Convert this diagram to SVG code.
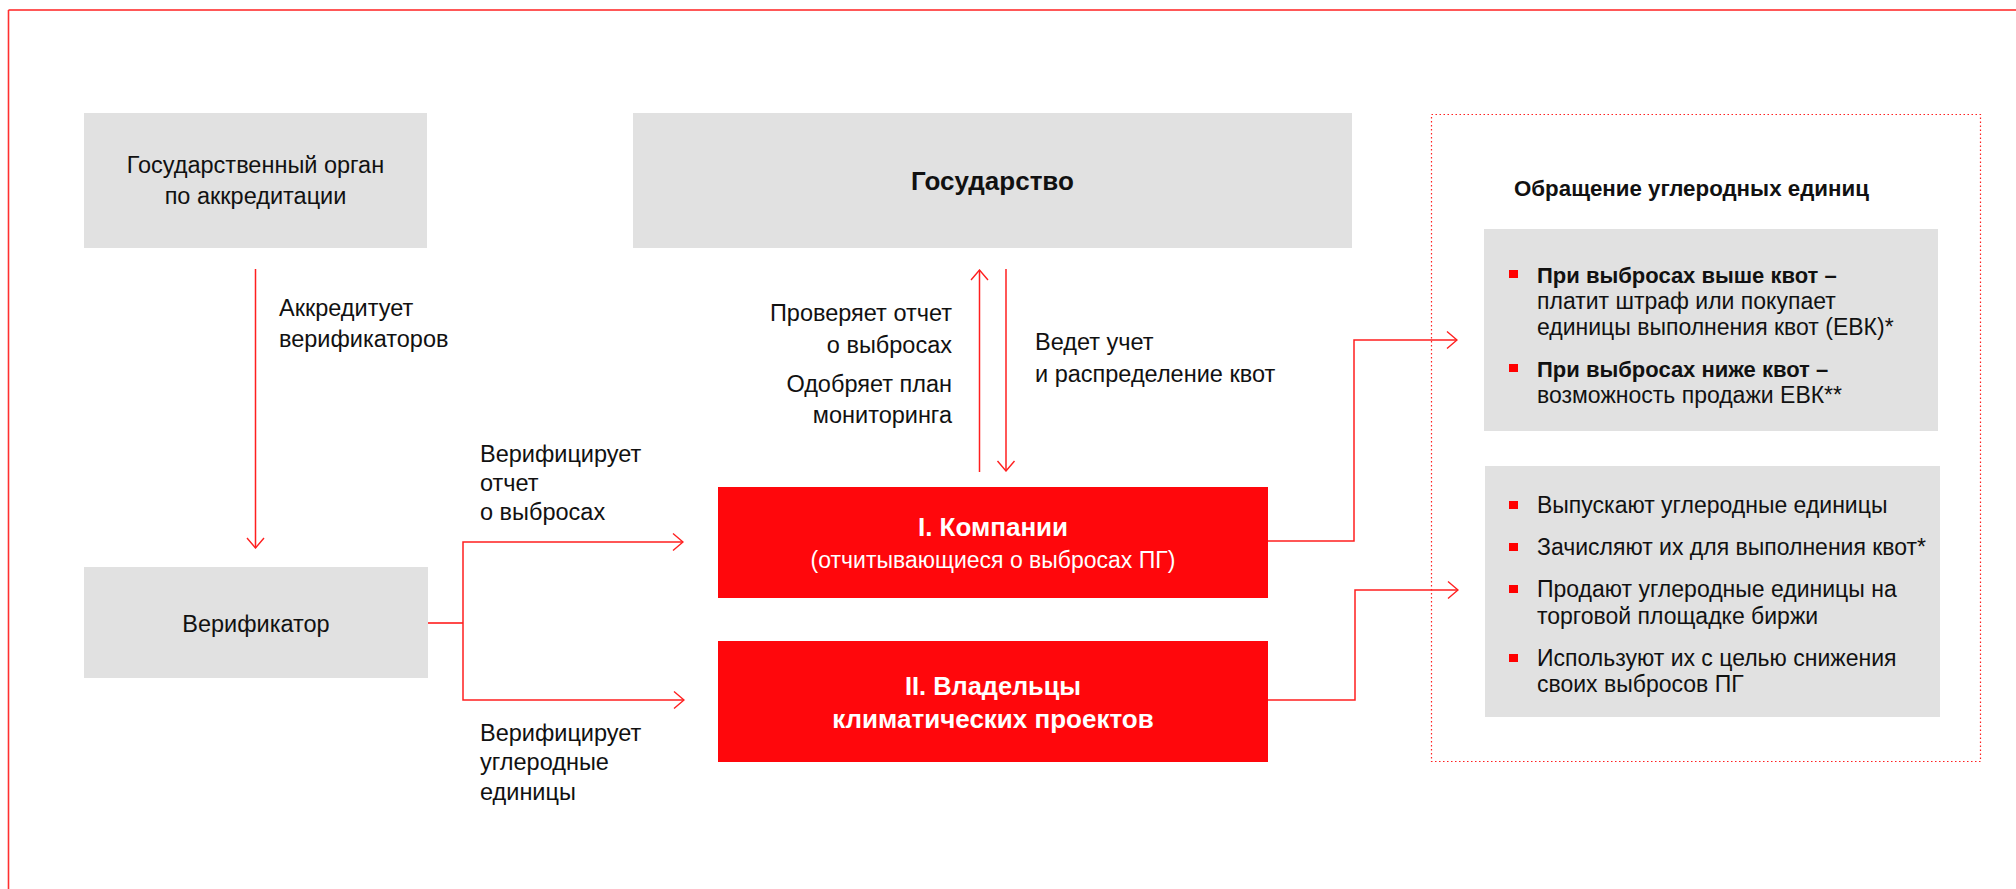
<svg xmlns="http://www.w3.org/2000/svg" width="2016" height="889" viewBox="0 0 2016 889">
  <defs>
    <style>
      text { font-family: "Liberation Sans", Arial, sans-serif; fill: #111; }
      .lbl { font-size: 23.5px; }
      .mid { text-anchor: middle; }
      .end { text-anchor: end; }
      .b { font-weight: bold; }
      .w { fill: #fff; }
      .grey { fill: #e1e1e1; }
      .red { fill: #ff070c; }
      .ln { fill: none; stroke: #ff1f1f; stroke-width: 1.5; }
      .bul { fill: #ff0000; }
      .li { font-size: 23px; }
      .lib { font-size: 22px; font-weight: bold; }
    </style>
    <marker id="arr" viewBox="0 0 12 20" refX="11" refY="10" markerWidth="12" markerHeight="20" markerUnits="userSpaceOnUse" orient="auto">
      <path d="M1,1.5 L11,10 L1,18.5" fill="none" stroke="#ff1f1f" stroke-width="1.4"/>
    </marker>
  </defs>

  <!-- outer frame: top and left rules -->
  <g id="frame">
    <line x1="8.5" y1="10" x2="2016" y2="10" stroke="#ff2020" stroke-width="1.6"/>
    <line x1="8.5" y1="10" x2="8.5" y2="889" stroke="#ff3030" stroke-width="1.6"/>
  </g>

  <!-- connectors -->
  <g id="connectors">
    <line class="ln" x1="255.5" y1="269" x2="255.5" y2="548" marker-end="url(#arr)"/>
    <line x1="428" y1="623" x2="463" y2="623" stroke="#ff4a4a" stroke-width="2.2"/>
    <polyline class="ln" points="463,623 463,542 683,542" marker-end="url(#arr)"/>
    <polyline class="ln" points="463,623 463,700 684,700" marker-end="url(#arr)"/>
    <line class="ln" x1="979.5" y1="472" x2="979.5" y2="270" marker-end="url(#arr)"/>
    <line class="ln" x1="1006" y1="269" x2="1006" y2="471" marker-end="url(#arr)"/>
    <polyline class="ln" points="1268,541 1354,541 1354,340 1457,340" marker-end="url(#arr)"/>
    <polyline class="ln" points="1268,700 1355,700 1355,590 1458,590" marker-end="url(#arr)"/>
  </g>

  <!-- connector labels -->
  <g id="labels" class="lbl">
    <text x="279" y="316">Аккредитует</text>
    <text x="279" y="347">верификаторов</text>
    <text x="480" y="462">Верифицирует</text>
    <text x="480" y="491">отчет</text>
    <text x="480" y="520">о выбросах</text>
    <text x="480" y="741">Верифицирует</text>
    <text x="480" y="770">углеродные</text>
    <text x="480" y="800">единицы</text>
    <text class="end" x="952" y="321">Проверяет отчет</text>
    <text class="end" x="952" y="353">о выбросах</text>
    <text class="end" x="952" y="392">Одобряет план</text>
    <text class="end" x="952" y="423">мониторинга</text>
    <text x="1035" y="350">Ведет учет</text>
    <text x="1035" y="382">и распределение квот</text>
  </g>

  <g id="accreditation-body">
    <rect class="grey" x="84" y="113" width="343" height="135"/>
    <text class="lbl mid" x="255.5" y="173">Государственный орган</text>
    <text class="lbl mid" x="255.5" y="204">по аккредитации</text>
  </g>

  <g id="state">
    <rect class="grey" x="633" y="113" width="719" height="135"/>
    <text class="mid b" x="992.5" y="190" font-size="26">Государство</text>
  </g>

  <g id="verifier">
    <rect class="grey" x="84" y="567" width="344" height="111"/>
    <text class="lbl mid" x="256" y="632">Верификатор</text>
  </g>

  <g id="companies">
    <rect class="red" x="718" y="487" width="550" height="111"/>
    <text class="w mid b" x="993" y="536" font-size="26">I. Компании</text>
    <text class="w mid" x="993" y="568" font-size="23">(отчитывающиеся о выбросах ПГ)</text>
  </g>

  <g id="project-owners">
    <rect class="red" x="718" y="641" width="550" height="121"/>
    <text class="w mid b" x="993" y="695" font-size="26" textLength="176" lengthAdjust="spacingAndGlyphs">II. Владельцы</text>
    <text class="w mid b" x="993" y="728" font-size="26">климатических проектов</text>
  </g>

  <g id="carbon-units">
    <rect x="1431.5" y="114.5" width="549" height="647" fill="none" stroke="#ff2020" stroke-width="1.2" stroke-dasharray="1.5 2.5"/>
    <text class="b" x="1514" y="196" font-size="22.3">Обращение углеродных единиц</text>
  </g>

  <g id="quota-outcomes">
    <rect class="grey" x="1484" y="229" width="454" height="202"/>
    <rect class="bul" x="1509" y="270" width="9" height="8"/>
    <rect class="bul" x="1509" y="364" width="9" height="8"/>
    <text class="lib" x="1537" y="283">При выбросах выше квот –</text>
    <text class="li" x="1537" y="309">платит штраф или покупает</text>
    <text class="li" x="1537" y="335">единицы выполнения квот (ЕВК)*</text>
    <text class="lib" x="1537" y="377">При выбросах ниже квот –</text>
    <text class="li" x="1537" y="403">возможность продажи ЕВК**</text>
  </g>

  <g id="project-actions">
    <rect class="grey" x="1485" y="466" width="455" height="251"/>
    <rect class="bul" x="1509" y="501" width="9" height="8"/>
    <rect class="bul" x="1509" y="543" width="9" height="8"/>
    <rect class="bul" x="1509" y="585" width="9" height="8"/>
    <rect class="bul" x="1509" y="654" width="9" height="8"/>
    <text class="li" x="1537" y="513">Выпускают углеродные единицы</text>
    <text class="li" x="1537" y="555">Зачисляют их для выполнения квот*</text>
    <text class="li" x="1537" y="597">Продают углеродные единицы на</text>
    <text class="li" x="1537" y="624">торговой площадке биржи</text>
    <text class="li" x="1537" y="666">Используют их с целью снижения</text>
    <text class="li" x="1537" y="692">своих выбросов ПГ</text>
  </g>
</svg>
